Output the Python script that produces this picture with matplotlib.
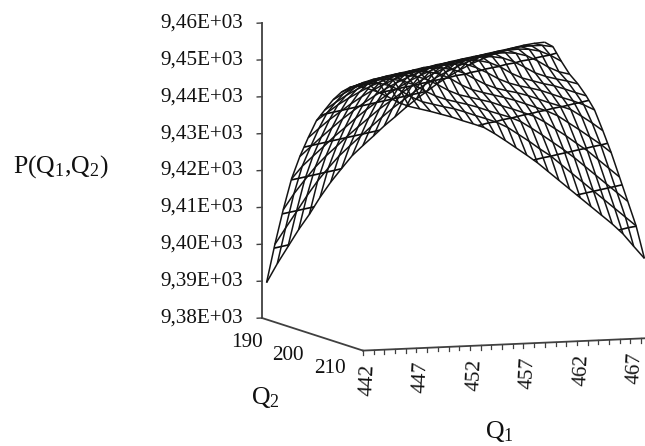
import numpy as np
import matplotlib
matplotlib.use('Agg')
import matplotlib.pyplot as plt
from mpl_toolkits.mplot3d import proj3d

plt.rcParams['font.family'] = ['Liberation Serif', 'DejaVu Serif']
plt.rcParams['mathtext.default'] = 'regular'

q1_values = np.arange(442, 469)
q2_values = np.arange(190, 216, 2)

# P(Q1, Q2), one list per Q2 value
p_190 = [9390.0, 9395.0, 9399.5, 9404.0, 9408.0, 9412.5, 9416.5, 9420.0, 9423.4, 9426.0, 9428.5, 9431.1, 9433.4, 9435.8, 9438.0, 9440.0, 9442.0, 9443.7, 9445.3, 9446.7, 9447.9, 9449.0, 9449.9, 9450.7, 9451.3, 9451.7, 9451.9]
p_192 = [9401.1, 9405.4, 9409.6, 9413.9, 9417.8, 9421.2, 9424.3, 9426.9, 9429.4, 9431.9, 9434.3, 9436.6, 9438.7, 9440.7, 9442.6, 9444.3, 9445.8, 9447.1, 9448.3, 9449.3, 9450.2, 9450.9, 9451.4, 9451.8, 9451.9, 9451.9, 9451.4]
p_194 = [9411.2, 9415.4, 9419.0, 9422.4, 9425.3, 9427.8, 9430.4, 9432.8, 9435.1, 9437.4, 9439.4, 9441.4, 9443.2, 9444.8, 9446.3, 9447.6, 9448.7, 9449.6, 9450.5, 9451.1, 9451.6, 9451.8, 9452.0, 9451.8, 9451.2, 9449.9, 9448.2]
p_196 = [9420.3, 9423.6, 9426.2, 9428.7, 9431.3, 9433.6, 9436.0, 9438.2, 9440.2, 9442.1, 9443.8, 9445.4, 9446.8, 9448.0, 9449.1, 9450.0, 9450.8, 9451.3, 9451.7, 9451.9, 9452.0, 9451.7, 9450.9, 9449.4, 9447.6, 9446.2, 9445.4]
p_198 = [9427.1, 9429.6, 9432.1, 9434.5, 9436.8, 9438.9, 9440.9, 9442.7, 9444.4, 9445.9, 9447.2, 9448.4, 9449.4, 9450.3, 9451.0, 9451.5, 9451.8, 9452.0, 9451.9, 9451.4, 9450.3, 9448.7, 9447.0, 9445.9, 9445.1, 9444.4, 9443.5]
p_200 = [9432.9, 9435.3, 9437.6, 9439.6, 9441.6, 9443.4, 9445.0, 9446.4, 9447.7, 9448.8, 9449.7, 9450.5, 9451.2, 9451.6, 9451.9, 9452.0, 9451.8, 9451.1, 9449.8, 9448.0, 9446.6, 9445.7, 9444.8, 9444.1, 9443.1, 9442.0, 9441.0]
p_202 = [9438.3, 9440.3, 9442.3, 9444.0, 9445.5, 9446.9, 9448.1, 9449.1, 9450.0, 9450.8, 9451.4, 9451.7, 9451.9, 9452.0, 9451.8, 9450.7, 9449.2, 9447.5, 9446.2, 9445.3, 9444.6, 9443.8, 9442.7, 9441.6, 9440.6, 9439.4, 9437.9]
p_204 = [9441.9, 9443.8, 9445.6, 9447.1, 9448.4, 9449.5, 9450.3, 9451.0, 9451.5, 9451.8, 9452.0, 9451.9, 9451.3, 9450.3, 9448.6, 9447.0, 9445.8, 9445.0, 9444.3, 9443.4, 9442.3, 9441.2, 9440.2, 9439.1, 9437.2, 9435.2, 9433.0]
p_206 = [9445.4, 9447.0, 9448.4, 9449.6, 9450.5, 9451.2, 9451.7, 9451.9, 9452.0, 9451.8, 9451.1, 9449.7, 9447.9, 9446.5, 9445.6, 9444.8, 9444.0, 9443.1, 9442.0, 9440.9, 9439.8, 9438.4, 9436.4, 9434.4, 9432.3, 9430.2, 9427.8]
p_208 = [9448.2, 9449.4, 9450.5, 9451.3, 9451.8, 9451.9, 9452.0, 9451.6, 9450.6, 9449.1, 9447.4, 9446.1, 9445.3, 9444.5, 9443.7, 9442.6, 9441.6, 9440.5, 9439.4, 9437.7, 9435.7, 9433.7, 9431.5, 9429.4, 9426.9, 9424.4, 9421.9]
p_210 = [9450.2, 9451.0, 9451.6, 9452.0, 9451.9, 9451.3, 9450.2, 9448.4, 9446.9, 9445.8, 9445.0, 9444.2, 9443.3, 9442.2, 9441.2, 9440.2, 9438.9, 9437.0, 9435.0, 9432.9, 9430.8, 9428.5, 9426.0, 9423.5, 9421.0, 9418.5, 9416.0]
p_212 = [9451.3, 9451.8, 9451.8, 9451.0, 9449.5, 9447.7, 9446.3, 9445.5, 9444.7, 9444.0, 9443.0, 9441.9, 9440.9, 9439.8, 9438.3, 9436.3, 9434.3, 9432.1, 9430.1, 9427.6, 9425.1, 9422.6, 9420.1, 9417.6, 9415.1, 9412.6, 9410.1]
p_214 = [9451.4, 9450.4, 9448.9, 9447.2, 9446.0, 9445.2, 9444.4, 9443.5, 9442.6, 9441.5, 9440.5, 9439.4, 9437.6, 9435.6, 9433.5, 9431.4, 9429.2, 9426.7, 9424.2, 9421.7, 9419.2, 9416.7, 9414.2, 9411.7, 9408.9, 9405.4, 9402.0]

p_rows = [p_190, p_192, p_194, p_196, p_198, p_200, p_202, p_204, p_206, p_208, p_210, p_212, p_214]

z_ticks = [9380, 9390, 9400, 9410, 9420, 9430, 9440, 9450, 9460]
z_labels = ['9,38E+03', '9,39E+03', '9,40E+03', '9,41E+03', '9,42E+03', '9,43E+03', '9,44E+03', '9,45E+03', '9,46E+03']
q1_labels = [442, 447, 452, 457, 462, 467]
q2_labels = [190, 200, 210]
contour_levels = [9400, 9410, 9420, 9430, 9440, 9450]

W, H = 645, 446
q2_back, q2_front = 188.9, 213.2
q1_end = 470
z0 = 9380
text_color = '#111111'

fig = plt.figure(figsize=(W / 100, H / 100), dpi=100)
ax = fig.add_axes([0, 0, 1, 1], projection='3d', proj_type='ortho')
ax.view_init(elev=6.82, azim=-110.2)
ax.set_box_aspect((296.3, 292.5, 297.1))

Q1, Q2 = np.meshgrid(q1_values, q2_values)
P = np.array(p_rows)

ax.plot_wireframe(Q1, Q2, P, color='#141414', linewidth=1.1)
ax.contour(Q1, Q2, P, levels=contour_levels, colors='#0a0a0a', linewidths=1.2)

# axes lines
axis_color = '#404040'
ax.plot([442, 442], [q2_back, q2_back], [z0, 9460], color=axis_color, lw=1.3)
ax.plot([442, 442], [q2_back, q2_front], [z0, z0], color=axis_color, lw=1.3)
ax.plot([442, q1_end], [q2_front, q2_front], [z0, z0], color=axis_color, lw=1.3)

for z in z_ticks:
    ax.plot([441.55, 442], [q2_back, q2_back], [z, z], color=axis_color, lw=1.0)

for q in range(442, q1_end + 1):
    ax.plot([q, q], [q2_front, q2_front], [z0, z0 - 1.1], color=axis_color, lw=0.9)

ax.set_xlim(442, 468, view_margin=0)
ax.set_ylim(q2_front, q2_back, view_margin=0)
ax.set_zlim(z0, 9460, view_margin=0)
ax.set_axis_off()


def to_px(x, y, z):
    xs, ys, _ = proj3d.proj_transform(x, y, z, ax.get_proj())
    return ax.transData.transform((xs, ys))


# place the 3D box so the value axis sits where it should
side = 446.0
ax.set_position([(W - side) / 2 / W, 0, side / W, side / H])
fig.canvas.draw()
p0 = to_px(442, q2_back, z0)
p1 = to_px(442, q2_back, 9460)
scale = 295.0 / (p1[1] - p0[1])
centre = np.array([W / 2, H / 2])
target = np.array([262.0, H - 318.0])
new_side = side * scale
new_centre = target - (p0 - centre) * scale
ax.set_position([(new_centre[0] - new_side / 2) / W, (new_centre[1] - new_side / 2) / H, new_side / W, new_side / H])
fig.canvas.draw()

# tick labels sit at a fixed pixel offset from the projected tick
for z, label in zip(z_ticks, z_labels):
    px = to_px(442, q2_back, z)
    fig.text((px[0] - 19) / W, px[1] / H, label, ha='right', va='center', fontsize=15.2, color=text_color)

for q in q1_labels:
    px = to_px(q, q2_front, z0)
    fig.text((px[0] + 4.7) / W, (px[1] - 29) / H, str(q), rotation=87, ha='center', va='center', fontsize=15.2, color=text_color)

for q in q2_labels:
    px = to_px(442, q, z0)
    fig.text((px[0] - 20) / W, (px[1] - 22.6) / H, str(q), ha='center', va='center', fontsize=15.2, color=text_color)

fig.text(13 / W, 1 - 173 / H, 'P(Q$_1$,Q$_2$)', fontsize=18.5, ha='left', va='baseline', color=text_color)
fig.text(265 / W, 1 - 398 / H, 'Q$_2$', fontsize=18.5, ha='center', va='center', color=text_color)
fig.text(499 / W, 1 - 432 / H, 'Q$_1$', fontsize=18.5, ha='center', va='center', color=text_color)

fig.savefig('out.png', dpi=100, facecolor='white')
